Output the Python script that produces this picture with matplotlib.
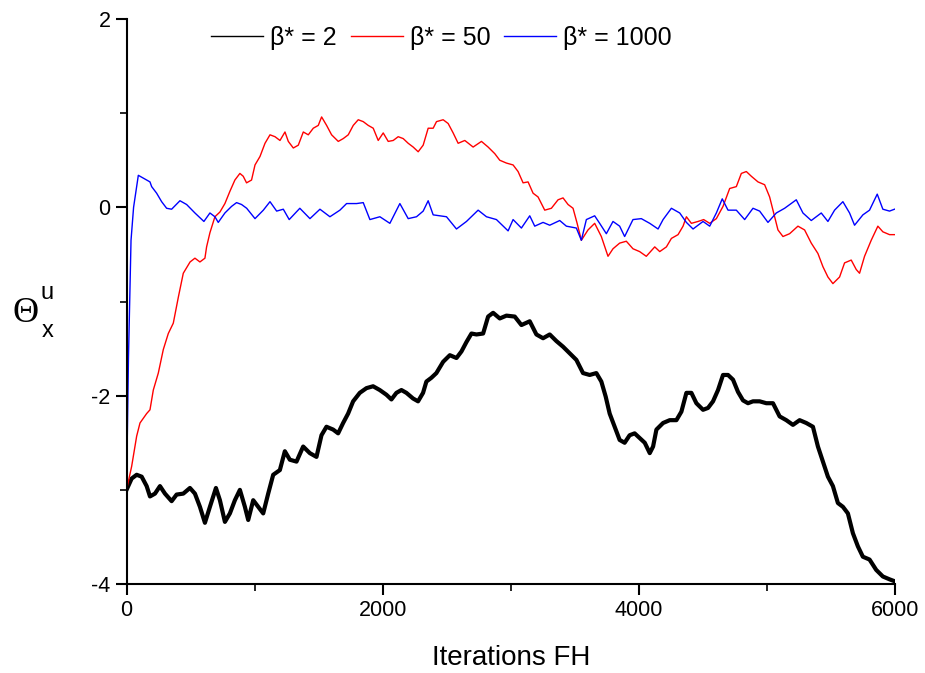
from matplotlib import pyplot as plt
from matplotlib.ticker import MultipleLocator

plt.rcParams['font.family'] = ['Liberation Sans', 'DejaVu Sans']
plt.rcParams['axes.unicode_minus'] = False

# beta* = 2  (black)
x_b2 = [0, 40, 79, 118, 157, 183, 222, 261, 300, 352, 391, 443, 495, 534, 573, 612,
        651, 698, 729, 768, 807, 846, 885, 924, 950, 989, 1028, 1067, 1106, 1145,
        1197, 1236, 1275, 1327, 1379, 1431, 1483, 1522, 1561, 1613, 1652, 1691, 1730,
        1769, 1821, 1873, 1925, 1977, 2029, 2068, 2107, 2146, 2185, 2237, 2276, 2315,
        2341, 2380, 2419, 2472, 2524, 2576, 2615, 2654, 2693, 2732, 2784, 2823, 2862,
        2914, 2966, 3031, 3083, 3148, 3200, 3252, 3304, 3356, 3408, 3460, 3512, 3564,
        3616, 3668, 3707, 3741, 3772, 3811, 3850, 3889, 3928, 3967, 4006, 4046, 4085,
        4111, 4137, 4189, 4241, 4293, 4332, 4371, 4410, 4449, 4501, 4540, 4579, 4618,
        4657, 4696, 4735, 4774, 4813, 4852, 4891, 4943, 4995, 5047, 5099, 5151, 5203,
        5255, 5307, 5359, 5398, 5437, 5476, 5515, 5554, 5593, 5632, 5671, 5710, 5749,
        5801, 5853, 5905, 5957, 5996]
y_b2 = [-3.0, -2.88, -2.84, -2.86, -2.96, -3.07, -3.04, -2.96, -3.04, -3.12, -3.05,
        -3.04, -2.98, -3.04, -3.18, -3.35, -3.18, -2.98, -3.11, -3.34, -3.25, -3.11,
        -3.0, -3.18, -3.32, -3.11, -3.18, -3.25, -3.04, -2.84, -2.79, -2.59, -2.68,
        -2.70, -2.54, -2.61, -2.65, -2.42, -2.33, -2.36, -2.40, -2.29, -2.19, -2.06,
        -1.97, -1.92, -1.90, -1.94, -1.99, -2.04, -1.97, -1.94, -1.97, -2.03, -2.06,
        -1.97, -1.85, -1.81, -1.76, -1.64, -1.57, -1.60, -1.53, -1.43, -1.34, -1.35,
        -1.34, -1.16, -1.12, -1.18, -1.15, -1.16, -1.25, -1.21, -1.35, -1.39, -1.35,
        -1.42, -1.48, -1.55, -1.62, -1.76, -1.78, -1.76, -1.85, -2.01, -2.19, -2.33,
        -2.47, -2.50, -2.42, -2.40, -2.45, -2.50, -2.61, -2.54, -2.36, -2.29, -2.26,
        -2.26, -2.17, -1.97, -1.97, -2.08, -2.15, -2.13, -2.06, -1.94, -1.78, -1.78,
        -1.83, -1.96, -2.05, -2.08, -2.06, -2.06, -2.08, -2.08, -2.22, -2.26, -2.31,
        -2.26, -2.29, -2.33, -2.54, -2.70, -2.86, -2.96, -3.14, -3.18, -3.25, -3.46,
        -3.60, -3.71, -3.74, -3.85, -3.92, -3.95, -3.97]

# beta* = 50  (red)
x_b50 = [0, 40, 79, 105, 157, 183, 209, 248, 287, 326, 365, 405, 443, 496, 534, 573,
         612, 625, 651, 690, 729, 768, 807, 846, 885, 911, 937, 976, 1003, 1042, 1081,
         1120, 1159, 1198, 1237, 1263, 1302, 1341, 1380, 1419, 1458, 1497, 1523, 1562,
         1601, 1653, 1692, 1731, 1770, 1809, 1848, 1887, 1926, 1965, 2004, 2043, 2082,
         2121, 2160, 2199, 2238, 2277, 2316, 2355, 2394, 2420, 2472, 2511, 2550, 2589,
         2641, 2706, 2771, 2823, 2875, 2914, 2966, 3018, 3057, 3096, 3135, 3174, 3213,
         3265, 3317, 3369, 3408, 3447, 3486, 3518, 3551, 3603, 3655, 3707, 3759, 3798,
         3850, 3902, 3954, 4006, 4058, 4124, 4163, 4215, 4254, 4306, 4345, 4371, 4410,
         4462, 4506, 4553, 4605, 4657, 4709, 4761, 4800, 4839, 4878, 4930, 4982, 5021,
         5047, 5086, 5125, 5177, 5242, 5294, 5346, 5398, 5437, 5476, 5515, 5567, 5606,
         5658, 5697, 5723, 5762, 5814, 5866, 5905, 5957, 5996]
y_b50 = [-3.0, -2.75, -2.43, -2.29, -2.19, -2.15, -1.94, -1.76, -1.51, -1.34, -1.23,
         -0.95, -0.70, -0.58, -0.54, -0.58, -0.54, -0.42, -0.27, -0.10, -0.05, 0.04,
         0.17, 0.29, 0.36, 0.33, 0.26, 0.29, 0.45, 0.54, 0.68, 0.77, 0.75, 0.71, 0.80,
         0.70, 0.63, 0.66, 0.80, 0.77, 0.84, 0.87, 0.96, 0.87, 0.77, 0.70, 0.73, 0.77,
         0.87, 0.93, 0.91, 0.87, 0.84, 0.71, 0.79, 0.70, 0.71, 0.75, 0.73, 0.68, 0.64,
         0.59, 0.66, 0.84, 0.84, 0.91, 0.93, 0.89, 0.79, 0.68, 0.71, 0.64, 0.70, 0.64,
         0.57, 0.50, 0.47, 0.45, 0.38, 0.26, 0.27, 0.15, 0.11, -0.03, -0.01, 0.08, 0.10,
         0.03, -0.01, -0.17, -0.35, -0.24, -0.17, -0.31, -0.52, -0.44, -0.38, -0.36,
         -0.44, -0.47, -0.52, -0.42, -0.47, -0.42, -0.33, -0.29, -0.20, -0.10, -0.17,
         -0.15, -0.13, -0.17, -0.12, 0.01, 0.20, 0.22, 0.36, 0.38, 0.33, 0.27, 0.24,
         0.11, -0.03, -0.24, -0.31, -0.28, -0.20, -0.24, -0.38, -0.49, -0.63, -0.74,
         -0.81, -0.74, -0.59, -0.56, -0.66, -0.70, -0.52, -0.35, -0.20, -0.26, -0.29,
         -0.29]

# beta* = 1000  (blue)
x_b1000 = [0, 15, 35, 55, 92, 131, 183, 196, 235, 274, 313, 352, 417, 469, 534, 604,
           651, 690, 716, 768, 820, 859, 898, 938, 1003, 1068, 1120, 1172, 1224, 1270,
           1353, 1432, 1510, 1588, 1666, 1718, 1796, 1848, 1900, 1978, 2056, 2134, 2199,
           2264, 2316, 2355, 2394, 2498, 2576, 2654, 2745, 2810, 2888, 2979, 3018, 3083,
           3148, 3187, 3252, 3304, 3382, 3434, 3512, 3551, 3590, 3655, 3694, 3746, 3798,
           3850, 3889, 3954, 4019, 4085, 4150, 4189, 4254, 4319, 4371, 4423, 4501, 4553,
           4605, 4651, 4696, 4761, 4826, 4891, 4943, 5008, 5073, 5138, 5229, 5281, 5346,
           5424, 5476, 5528, 5593, 5645, 5684, 5749, 5801, 5861, 5905, 5957, 5996]
y_b1000 = [-3.0, -1.6, -0.35, 0.0, 0.34, 0.31, 0.27, 0.22, 0.15, 0.06, -0.01, -0.02,
           0.07, 0.03, -0.06, -0.15, -0.06, -0.10, -0.16, -0.06, 0.01, 0.05, 0.03,
           -0.01, -0.12, -0.03, 0.06, -0.04, -0.02, -0.13, -0.01, -0.12, -0.02, -0.10,
           -0.03, 0.04, 0.04, 0.05, -0.13, -0.10, -0.17, 0.04, -0.12, -0.10, -0.04,
           0.07, -0.08, -0.10, -0.23, -0.15, -0.03, -0.10, -0.13, -0.25, -0.13, -0.22,
           -0.09, -0.20, -0.16, -0.19, -0.14, -0.20, -0.22, -0.35, -0.13, -0.09, -0.17,
           -0.28, -0.15, -0.20, -0.31, -0.13, -0.12, -0.17, -0.23, -0.13, -0.01, -0.06,
           -0.16, -0.23, -0.15, -0.20, -0.06, 0.09, -0.03, -0.03, -0.13, -0.01, -0.04,
           -0.16, -0.06, -0.01, 0.08, -0.06, -0.14, -0.06, -0.15, -0.03, 0.06, -0.06,
           -0.19, -0.08, -0.03, 0.14, -0.02, -0.04, -0.02]

labels = ['β* = 2', 'β* = 50', 'β* = 1000']

fig = plt.figure(figsize=(9.25, 6.73), dpi=100)
ax = fig.add_axes([0.1368, 0.1322, 0.8308, 0.8396])

ax.plot(x_b2, y_b2, color='black', lw=3.0, label=labels[0])
ax.plot(x_b50, y_b50, color='red', lw=1.0, label=labels[1])
ax.plot(x_b1000, y_b1000, color='blue', lw=1.0, label=labels[2])

ax.set_xlim(0, 6000)
ax.set_ylim(-4, 2)
ax.xaxis.set_major_locator(MultipleLocator(2000))
ax.xaxis.set_minor_locator(MultipleLocator(1000))
ax.yaxis.set_major_locator(MultipleLocator(2))
ax.yaxis.set_minor_locator(MultipleLocator(1))

ax.spines['top'].set_visible(False)
ax.spines['right'].set_visible(False)
ax.spines['left'].set_linewidth(1.5)
ax.spines['bottom'].set_linewidth(1.5)
ax.tick_params(which='major', direction='out', length=8, width=1.5, labelsize=15.5)
ax.tick_params(which='minor', direction='out', length=5, width=1.2)

ax.set_xlabel('Iterations FH', fontsize=20, labelpad=17)

# y label: Theta with superscript u and subscript x
fig.text(0.028, 1 - 313 / 673, 'Θ', family='Liberation Serif', fontsize=26,
         ha='center', va='center')
fig.text(0.051, 1 - 293 / 673, 'u', fontsize=17, ha='center', va='center')
fig.text(0.051, 1 - 331 / 673, 'x', fontsize=17, ha='center', va='center')

leg = ax.legend(ncol=3, loc='center', bbox_to_anchor=(0.41, 0.966), frameon=False,
                fontsize=18, handlelength=2.08, handletextpad=0.28, columnspacing=0.56)
for line in leg.get_lines():
    line.set_linewidth(1.0)

fig.savefig('out.png', dpi=100)
